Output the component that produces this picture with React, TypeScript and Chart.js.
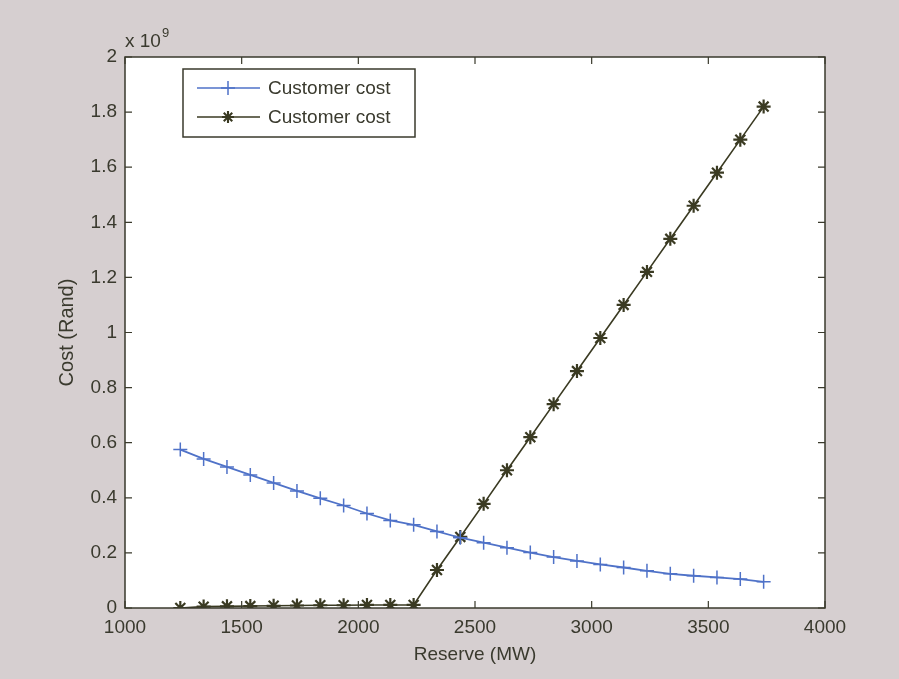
import React, { useEffect, useRef } from "react";
import { Chart, registerables } from "chart.js";

Chart.register(...registerables);

// Reserve (MW)
const reserveMW = [
  1237, 1337, 1437, 1537, 1637, 1737, 1837, 1937, 2037, 2137, 2237, 2337, 2437,
  2537, 2637, 2737, 2837, 2937, 3037, 3137, 3237, 3337, 3437, 3537, 3637, 3737,
];
// Cost in units of 10^9 Rand
const customerCostBlue = [
  0.575, 0.541, 0.512, 0.483, 0.454, 0.425, 0.398, 0.372, 0.343, 0.318, 0.302,
  0.278, 0.255, 0.237, 0.219, 0.201, 0.185, 0.171, 0.158, 0.147, 0.135, 0.124,
  0.117, 0.111, 0.105, 0.095,
];
const customerCostBlack = [
  0.0, 0.005, 0.006, 0.007, 0.008, 0.009, 0.01, 0.01, 0.011, 0.011, 0.011, 0.138,
  0.258, 0.378, 0.5, 0.62, 0.74, 0.86, 0.98, 1.1, 1.22, 1.34, 1.46, 1.58, 1.7, 1.82,
];
const legendLabels = ["Customer cost", "Customer cost"];
const xTitle = "Reserve (MW)";
const yTitle = "Cost (Rand)";

const BG = "#d6cfd0";
const TEXT = "#3a3a2e";
const AXIS = "#3a3a2c";
const BLUE = "#4f72c8";
const DARK = "#3a3a22";
const FONT = "'Liberation Sans', Arial, Helvetica, sans-serif";

function drawCross(ctx: CanvasRenderingContext2D, x: number, y: number, r: number) {
  ctx.beginPath();
  ctx.moveTo(x - r, y);
  ctx.lineTo(x + r, y);
  ctx.moveTo(x, y - r);
  ctx.lineTo(x, y + r);
  ctx.stroke();
}
function drawStar(ctx: CanvasRenderingContext2D, x: number, y: number, r: number) {
  drawCross(ctx, x, y, r);
  const d = r * Math.SQRT1_2;
  ctx.beginPath();
  ctx.moveTo(x - d, y - d);
  ctx.lineTo(x + d, y + d);
  ctx.moveTo(x - d, y + d);
  ctx.lineTo(x + d, y - d);
  ctx.stroke();
}

const matlabPlugin = {
  id: "matlabLook",
  beforeDraw(chart: any) {
    const { ctx, chartArea } = chart;
    ctx.save();
    ctx.fillStyle = BG;
    ctx.fillRect(0, 0, chart.width, chart.height);
    ctx.fillStyle = "#ffffff";
    ctx.fillRect(chartArea.left, chartArea.top, chartArea.right - chartArea.left, chartArea.bottom - chartArea.top);
    ctx.restore();
  },
  afterDraw(chart: any) {
    const { ctx, chartArea } = chart;
    const { left, right, top, bottom } = chartArea;
    const xs = chart.scales.x;
    const ys = chart.scales.y;
    const tl = 7;
    ctx.save();
    ctx.strokeStyle = AXIS;
    ctx.lineWidth = 1.5;
    ctx.strokeRect(left, top, right - left, bottom - top);
    ctx.lineWidth = 1.2;
    ctx.beginPath();
    xs.ticks.forEach((t: any) => {
      const px = xs.getPixelForValue(t.value);
      ctx.moveTo(px, bottom);
      ctx.lineTo(px, bottom - tl);
      ctx.moveTo(px, top);
      ctx.lineTo(px, top + tl);
    });
    ys.ticks.forEach((t: any) => {
      const py = ys.getPixelForValue(t.value);
      ctx.moveTo(left, py);
      ctx.lineTo(left + tl, py);
      ctx.moveTo(right, py);
      ctx.lineTo(right - tl, py);
    });
    ctx.stroke();

    // exponent label
    ctx.fillStyle = TEXT;
    ctx.textBaseline = "alphabetic";
    ctx.textAlign = "left";
    ctx.font = `19px ${FONT}`;
    ctx.fillText("x 10", left, top - 10);
    const w = ctx.measureText("x 10").width;
    ctx.font = `13px ${FONT}`;
    ctx.fillText("9", left + w + 1, top - 20);

    // legend
    const lx = 183, ly = 69, lw = 232, lh = 68;
    ctx.fillStyle = "#ffffff";
    ctx.fillRect(lx, ly, lw, lh);
    ctx.strokeStyle = AXIS;
    ctx.lineWidth = 1.5;
    ctx.strokeRect(lx, ly, lw, lh);
    const rows = [
      { y: 88, color: BLUE, star: false },
      { y: 117, color: DARK, star: true },
    ];
    rows.forEach((r, i) => {
      ctx.strokeStyle = r.color;
      ctx.lineWidth = 1.5;
      ctx.beginPath();
      ctx.moveTo(197, r.y);
      ctx.lineTo(260, r.y);
      ctx.stroke();
      if (r.star) {
        ctx.lineWidth = 2.1;
        drawStar(ctx, 228, r.y, 6);
      } else drawCross(ctx, 228, r.y, 7);
      ctx.fillStyle = TEXT;
      ctx.font = `19px ${FONT}`;
      ctx.textBaseline = "middle";
      ctx.fillText(legendLabels[i], 268, r.y + 1);
    });
    ctx.restore();
  },
};

export default function App() {
  const ref = useRef<HTMLCanvasElement | null>(null);
  useEffect(() => {
    document.body.style.margin = "0";
    const canvas = ref.current;
    if (!canvas) return;
    const chart = new Chart(canvas, {
      type: "line",
      data: {
        datasets: [
          {
            label: legendLabels[0],
            data: reserveMW.map((x, i) => ({ x, y: customerCostBlue[i] })),
            borderColor: BLUE,
            backgroundColor: BLUE,
            borderWidth: 1.8,
            pointStyle: "cross",
            pointRadius: 7,
            pointBorderWidth: 1.5,
            pointBorderColor: BLUE,
            tension: 0,
          },
          {
            label: legendLabels[1],
            data: reserveMW.map((x, i) => ({ x, y: customerCostBlack[i] })),
            borderColor: DARK,
            backgroundColor: DARK,
            borderWidth: 1.6,
            pointStyle: "star",
            pointRadius: 7,
            pointBorderWidth: 2.2,
            pointBorderColor: DARK,
            tension: 0,
          },
        ],
      },
      options: {
        animation: false,
        responsive: false,
        events: [],
        layout: { padding: { left: 0, top: 57, right: 74, bottom: 0 } },
        plugins: { legend: { display: false }, tooltip: { enabled: false } },
        scales: {
          x: {
            type: "linear",
            min: 1000,
            max: 4000,
            grid: { display: false, drawTicks: false },
            border: { display: false },
            ticks: {
              stepSize: 500,
              padding: 8,
              color: TEXT,
              font: { family: FONT, size: 19 },
              maxRotation: 0,
              callback: (v: any) => String(v),
            },
            title: {
              display: true,
              text: xTitle,
              color: TEXT,
              font: { family: FONT, size: 19 },
              padding: { top: 0, bottom: 13 },
            },
            afterFit: (s: any) => {
              s.height = 71;
            },
          },
          y: {
            type: "linear",
            min: 0,
            max: 2,
            grid: { display: false, drawTicks: false },
            border: { display: false },
            ticks: {
              stepSize: 0.2,
              padding: 8,
              color: TEXT,
              font: { family: FONT, size: 19 },
              callback: (v: any) => String(Math.round(Number(v) * 10) / 10),
            },
            title: {
              display: true,
              text: yTitle,
              color: TEXT,
              font: { family: FONT, size: 20 },
              padding: { top: 55, bottom: 0 },
            },
            afterFit: (s: any) => {
              s.width = 125;
            },
          },
        },
      },
      plugins: [matlabPlugin],
    } as any);
    return () => chart.destroy();
  }, []);
  return (
    <div style={{ width: 899, height: 679 }}>
      <canvas ref={ref} width={899} height={679} style={{ display: "block" }} />
    </div>
  );
}
